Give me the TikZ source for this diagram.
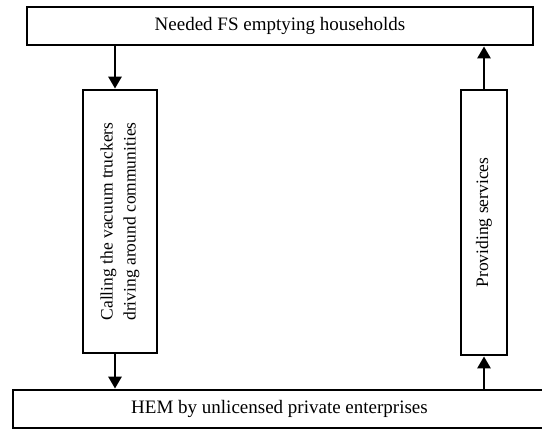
\documentclass[tikz,border=0pt]{standalone}
\usepackage{fontspec}
\setmainfont{Liberation Serif}
\usetikzlibrary{arrows.meta}

\begin{document}
\begin{tikzpicture}[x=1pt,y=-1pt,
		boxstyle/.style={draw,line width=2.8pt,inner sep=2pt,font=\fontsize{19}{23}\selectfont},
		vboxstyle/.style={boxstyle,rotate=90,align=center,font=\fontsize{17.5}{23}\selectfont},
		flow/.style={line width=2.8pt,-{Triangle[length=12pt,width=13pt]}}]
				\useasboundingbox (0,0) rectangle (542,429);
				
				\node [boxstyle,minimum width=506,minimum height=38] (needs) at (280,26) {Needed FS emptying households};
				\node [boxstyle,minimum width=533,minimum height=38] (hem) at (279.5,409) {HEM by unlicensed private enterprises};
				\node [vboxstyle,minimum width=263,minimum height=74] (calling) at (120,221.5) {Calling the vacuum truckers\\driving around communities};
				\node [vboxstyle,minimum width=265,minimum height=46] (providing) at (484,222.5) {Providing services};
				
				\draw[flow] ([xshift=-5]needs.south -| calling.east) -- ([xshift=-5]calling.east);
				\draw[flow] ([xshift=-5]calling.west) -- ([xshift=-5]hem.north -| calling.west);
				\draw[flow] (hem.north -| providing.west) -- (providing.west);
				\draw[flow] (providing.east) -- (needs.south -| providing.east);
				
			\end{tikzpicture}
\end{document}
